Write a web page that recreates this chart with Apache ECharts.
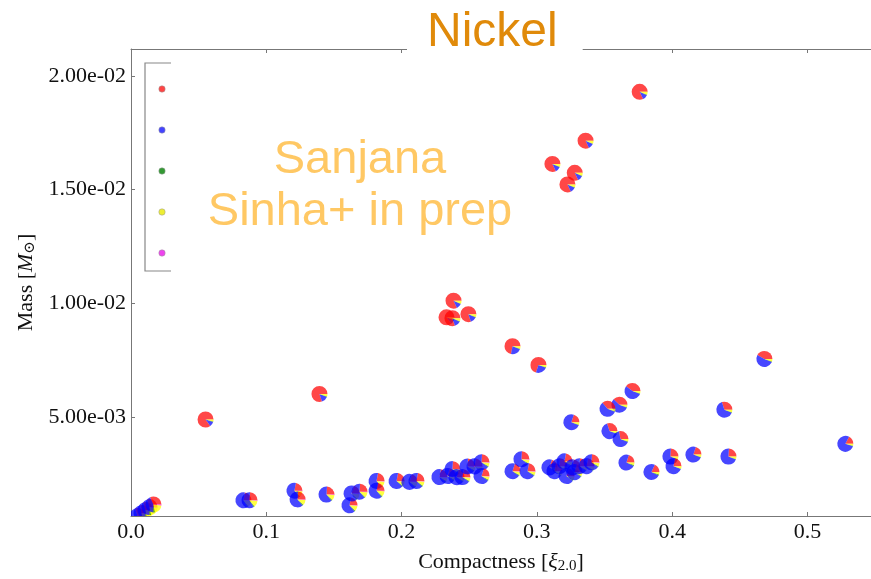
<!DOCTYPE html>
<html>
<head>
<meta charset="utf-8">
<script src="https://cdn.jsdelivr.net/npm/echarts@6/dist/echarts.min.js"></script>
<style>
  html, body { margin: 0; padding: 0; background: #fff; }
  #chart { width: 871px; height: 579px; }
</style>
</head>
<body>
<div id="chart"></div>
<script>
// compactness xi_2.0 and nickel mass of each model
var compactness = [
  0.376, 0.336, 0.328, 0.3226, 0.3115, 0.2384, 0.2332, 0.2376, 0.2494, 0.282, 0.3012, 0.1393, 0.0551,
  0.4682, 0.3707, 0.361, 0.3522, 0.4386, 0.3255, 0.3537, 0.3618, 0.528, 0.3662, 0.4157, 0.4416, 0.3987, 0.401, 0.3847,
  0.228, 0.2339, 0.2376, 0.2406, 0.245, 0.2487, 0.2539, 0.2591, 0.2591, 0.282, 0.2886, 0.2931,
  0.3093, 0.313, 0.3167, 0.3204, 0.3219, 0.3263, 0.3278, 0.3315, 0.3367, 0.3404,
  0.0831, 0.0876, 0.1208, 0.1231, 0.1445, 0.1615, 0.163, 0.1689, 0.1815, 0.1815, 0.1963, 0.2058, 0.211,
  0.0048, 0.0078, 0.0107, 0.0137, 0.0166
];
var massNi = [
  0.0193, 0.01715, 0.01574, 0.01523, 0.01613, 0.01012, 0.00939, 0.00935, 0.00953, 0.00812, 0.0073, 0.00602, 0.0049,
  0.00756, 0.00615, 0.00555, 0.00537, 0.00533, 0.00478, 0.00439, 0.00404, 0.00383, 0.00301, 0.00336, 0.00327, 0.00327, 0.00285, 0.00259,
  0.00237, 0.00242, 0.00272, 0.00237, 0.00237, 0.00284, 0.00284, 0.00302, 0.00242, 0.00263, 0.00315, 0.00263,
  0.0028, 0.00263, 0.00285, 0.00306, 0.00242, 0.0028, 0.00259, 0.00285, 0.00285, 0.00302,
  0.00135, 0.00135, 0.00177, 0.00139, 0.0016, 0.00113, 0.00165, 0.00173, 0.0022, 0.00177, 0.0022, 0.00216, 0.0022,
  0.00066, 0.00079, 0.00092, 0.00105, 0.00117
];
// pie fractions (red, blue, green, yellow, magenta)
var fracRed = [
  0.82, 0.82, 0.82, 0.82, 0.82, 0.82, 0.85, 0.8, 0.8, 0.72, 0.7, 0.8, 0.85,
  0.42, 0.4, 0.38, 0.36, 0.3, 0.2, 0.3, 0.28, 0.17, 0.2, 0.2, 0.24, 0.24, 0.22, 0.18,
  0.22, 0.2, 0.24, 0.2, 0.22, 0.24, 0.22, 0.24, 0.2, 0.2, 0.24, 0.22,
  0.2, 0.22, 0.24, 0.22, 0.2, 0.22, 0.2, 0.24, 0.22, 0.24,
  0.22, 0.24, 0.22, 0.24, 0.24, 0.22, 0.2, 0.24, 0.22, 0.22, 0.22, 0.2, 0.22,
  0.3, 0.28, 0.3, 0.3, 0.32
];
var fracBlue = [
  0.11, 0.11, 0.11, 0.11, 0.11, 0.11, 0.09, 0.13, 0.13, 0.22, 0.24, 0.14, 0.1,
  0.52, 0.54, 0.56, 0.58, 0.64, 0.74, 0.64, 0.66, 0.78, 0.73, 0.74, 0.7, 0.7, 0.72, 0.75,
  0.68, 0.7, 0.66, 0.7, 0.68, 0.66, 0.68, 0.66, 0.7, 0.7, 0.66, 0.68,
  0.7, 0.68, 0.66, 0.68, 0.7, 0.68, 0.7, 0.66, 0.68, 0.66,
  0.62, 0.6, 0.64, 0.62, 0.62, 0.64, 0.66, 0.62, 0.64, 0.64, 0.66, 0.68, 0.66,
  0.45, 0.47, 0.45, 0.45, 0.43
];
var fracGreen = [
  0.01, 0.01, 0.01, 0.01, 0.01, 0.01, 0.01, 0.01, 0.01, 0.01, 0.01, 0.01, 0.01,
  0.01, 0.01, 0.01, 0.01, 0.01, 0.01, 0.01, 0.01, 0.01, 0.02, 0.01, 0.01, 0.01, 0.01, 0.02,
  0.02, 0.02, 0.02, 0.02, 0.02, 0.02, 0.02, 0.02, 0.02, 0.02, 0.02, 0.02,
  0.02, 0.02, 0.02, 0.02, 0.02, 0.02, 0.02, 0.02, 0.02, 0.02,
  0.02, 0.02, 0.02, 0.02, 0.02, 0.02, 0.02, 0.02, 0.02, 0.02, 0.02, 0.02, 0.02,
  0.03, 0.03, 0.03, 0.03, 0.03
];
var fracYellow = [
  0.06, 0.06, 0.06, 0.06, 0.06, 0.06, 0.05, 0.06, 0.06, 0.05, 0.05, 0.05, 0.04,
  0.05, 0.05, 0.05, 0.05, 0.05, 0.05, 0.05, 0.05, 0.04, 0.05, 0.05, 0.05, 0.05, 0.05, 0.05,
  0.07, 0.07, 0.07, 0.07, 0.07, 0.07, 0.07, 0.07, 0.07, 0.07, 0.07, 0.07,
  0.07, 0.07, 0.07, 0.07, 0.07, 0.07, 0.07, 0.07, 0.07, 0.07,
  0.13, 0.13, 0.11, 0.11, 0.11, 0.11, 0.11, 0.11, 0.11, 0.11, 0.09, 0.09, 0.09,
  0.2, 0.2, 0.2, 0.2, 0.2
];
var fracMagenta = [
  0, 0, 0, 0, 0, 0, 0, 0, 0, 0, 0, 0, 0,
  0, 0, 0, 0, 0, 0, 0, 0, 0, 0, 0, 0, 0, 0, 0,
  0.01, 0.01, 0.01, 0.01, 0.01, 0.01, 0.01, 0.01, 0.01, 0.01, 0.01, 0.01,
  0.01, 0.01, 0.01, 0.01, 0.01, 0.01, 0.01, 0.01, 0.01, 0.01,
  0.01, 0.01, 0.01, 0.01, 0.01, 0.01, 0.01, 0.01, 0.01, 0.01, 0.01, 0.01, 0.01,
  0.02, 0.02, 0.02, 0.02, 0.02
];
var xTicks = [0, 0.1, 0.2, 0.3, 0.4, 0.5];
var yTicks = [0.005, 0.01, 0.015, 0.02];

var wedgeColors = ['rgba(255,0,0,0.72)', 'rgba(0,0,255,0.72)', 'rgba(0,128,0,0.72)', 'rgba(255,255,0,0.75)', 'rgba(255,0,255,0.72)'];
var legendColors = ['#f44', '#44f', '#393', '#ee3', '#e4e'];

var points = compactness.map(function (x, i) {
  return [x, massNi[i], fracRed[i], fracBlue[i], fracGreen[i], fracYellow[i], fracMagenta[i]];
});

// "2.00e-02" style
function sciLabel(v) {
  var parts = v.toExponential(2).split('e');
  var e = parseInt(parts[1], 10);
  var s = e < 0 ? '-' : '+';
  var d = String(Math.abs(e));
  if (d.length < 2) d = '0' + d;
  return parts[0] + 'e' + s + d;
}

// each point is a small pie, wedges counter-clockwise from east
function renderPie(params, api) {
  var c = api.coord([api.value(0), api.value(1)]);
  var r = 8;
  var children = [];
  var cum = 0;
  for (var k = 0; k < 5; k++) {
    var f = api.value(2 + k);
    if (f <= 0) continue;
    var a0 = cum * Math.PI * 2;
    var a1 = (cum + f) * Math.PI * 2;
    cum += f;
    children.push({
      type: 'sector',
      shape: { cx: c[0], cy: c[1], r: r, r0: 0, startAngle: -a0, endAngle: -a1, clockwise: false },
      style: { fill: wedgeColors[k] }
    });
  }
  return { type: 'group', children: children };
}

var serif = '"Liberation Serif", "DejaVu Serif", serif';
var axisLine = { lineStyle: { color: '#777', width: 1 } };

var legendGraphics = [{
  type: 'polyline',
  shape: { points: [[171, 63], [145, 63], [145, 271], [171, 271]] },
  style: { stroke: '#888', lineWidth: 1.2, fill: null }
}];
legendColors.forEach(function (col, i) {
  legendGraphics.push({
    type: 'circle',
    shape: { cx: 162, cy: 89 + i * 41, r: 3.2 },
    style: { fill: col, stroke: '#999', lineWidth: 0.5 }
  });
});

var chart = echarts.init(document.getElementById('chart'));
chart.setOption({
  animation: false,
  backgroundColor: '#fff',
  title: {
    text: 'Nickel',
    left: 407,
    top: 5,
    padding: [0, 25, 0, 20],
    backgroundColor: '#fff',
    textStyle: { color: '#e08a0a', fontSize: 48, fontWeight: 'normal', fontFamily: '"Liberation Sans", Arial, sans-serif', lineHeight: 56 },
    z: 10
  },
  grid: { left: 131, top: 49, right: 0, bottom: 51 },
  xAxis: [{
    type: 'value',
    min: 0,
    max: 0.547,
    splitLine: { show: false },
    axisLine: axisLine,
    axisTick: { inside: true, length: 4, lineStyle: { color: '#777' }, customValues: xTicks },
    axisLabel: {
      customValues: xTicks,
      formatter: function (v) { return v.toFixed(1); },
      color: '#111', fontFamily: serif, fontSize: 22, margin: 5
    },
    name: 'Compactness [{it|ξ}{sub|2.0}]',
    nameLocation: 'middle',
    nameGap: 35,
    nameTextStyle: {
      color: '#111', fontFamily: serif, fontSize: 22,
      rich: {
        it: { fontFamily: serif, fontStyle: 'italic', fontSize: 22, color: '#111' },
        sub: { fontFamily: serif, fontSize: 15, color: '#111', verticalAlign: 'bottom', padding: [8, 0, 0, 0] }
      }
    }
  }, {
    type: 'value',
    position: 'top',
    min: 0,
    max: 0.547,
    splitLine: { show: false },
    axisLine: axisLine,
    axisTick: { inside: true, length: 4, lineStyle: { color: '#777' }, customValues: xTicks },
    axisLabel: { show: false }
  }],
  yAxis: {
    type: 'value',
    min: 0.00066,
    max: 0.02118,
    splitLine: { show: false },
    axisLine: axisLine,
    axisTick: { inside: true, length: 4, lineStyle: { color: '#777' }, customValues: yTicks },
    axisLabel: {
      customValues: yTicks,
      formatter: sciLabel,
      color: '#111', fontFamily: serif, fontSize: 22, margin: 5
    },
    name: 'Mass [{it|M}{sub|⊙}]',
    nameLocation: 'middle',
    nameRotate: 90,
    nameGap: 93,
    nameTextStyle: {
      color: '#111', fontFamily: serif, fontSize: 22,
      rich: {
        it: { fontFamily: serif, fontStyle: 'italic', fontSize: 22, color: '#111' },
        sub: { fontFamily: serif, fontSize: 15, color: '#111', verticalAlign: 'bottom', padding: [8, 0, 0, 0] }
      }
    }
  },
  graphic: legendGraphics.concat([{
    type: 'text',
    x: 360,
    y: 134,
    style: {
      text: 'Sanjana\nSinha+ in prep',
      textAlign: 'center',
      fill: '#ffc864',
      font: '47px "Liberation Sans", Arial, sans-serif',
      lineHeight: 52
    }
  }]),
  series: [{
    type: 'custom',
    renderItem: renderPie,
    clip: true,
    encode: { x: 0, y: 1 },
    data: points
  }]
});
</script>
</body>
</html>
